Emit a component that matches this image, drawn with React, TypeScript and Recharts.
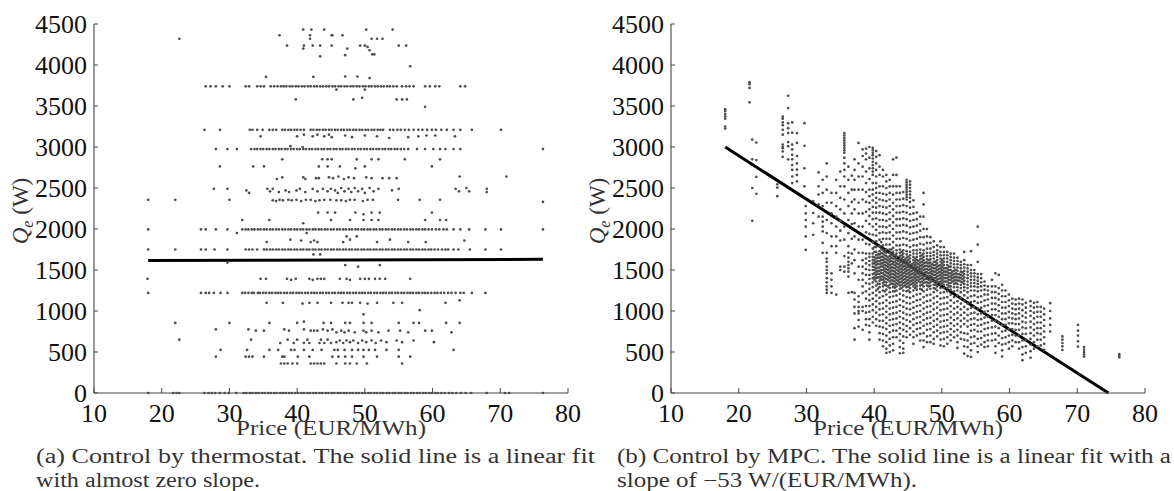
import { ScatterChart, Scatter, XAxis, YAxis, ReferenceLine } from 'recharts';

// axis ticks
const priceTicks = [10, 20, 30, 40, 50, 60, 70, 80];
const powerTicks = [0, 500, 1000, 1500, 2000, 2500, 3000, 3500, 4000, 4500];

// (a) thermostat: prices of the points sitting on each discrete power level
const thermoQ0 = [18, 21.7, 22.2, 22.6, 26.3, 26.9, 27.4, 27.9, 28.6, 29.3, 29.9, 31, 32.1, 32.5, 33, 33.4, 33.9, 34.3, 34.8, 35.2, 35.7, 36.1, 36.6, 37, 37.5, 37.9, 38.3, 38.8, 39.2, 39.7, 40.1, 40.6, 41, 41.5, 41.9, 42.4, 42.8, 43.3, 43.7, 44.2, 44.6, 45.1, 45.5, 46, 46.4, 46.9, 47.3, 47.8, 48.2, 48.7, 49.1, 49.6, 50, 50.5, 50.9, 51.4, 51.8, 52.3, 52.7, 53.2, 53.6, 54.1, 54.5, 55, 55.4, 55.9, 56.3, 56.8, 57.2, 57.7, 58.1, 58.6, 59, 59.5, 59.9, 60.4, 60.8, 61.3, 61.8, 62.4, 62.9, 63.5, 64.2, 64.9, 65.7, 68, 70.7, 71.3, 76.3];
const thermoQ1220 = [18, 25.8, 26.5, 27, 27.7, 28.7, 29.7, 31.9, 32.3, 32.8, 33.3, 33.6, 34.2, 34.5, 35, 35.4, 35.9, 36.3, 36.8, 37.2, 37.6, 38.1, 38.5, 39, 39.4, 39.9, 40.3, 40.7, 41.2, 41.6, 42.1, 42.5, 42.9, 43.4, 43.8, 44.3, 44.7, 45.2, 45.6, 46.1, 46.5, 46.9, 47.4, 47.8, 48.3, 48.7, 49.2, 49.6, 50, 50.5, 50.9, 51.4, 51.8, 52.3, 52.7, 53.1, 53.6, 54, 54.5, 54.9, 55.4, 55.8, 56.3, 56.7, 57.1, 57.6, 58, 58.5, 58.9, 59.3, 59.8, 60.3, 60.7, 61.2, 61.7, 62.3, 62.8, 63.4, 64.1, 64.6, 65.8, 67.8];
const thermoQ1750 = [18, 22, 25.8, 26.5, 27.8, 29.7, 32.4, 32.9, 33.4, 34.1, 35.1, 35.5, 36, 36.4, 36.9, 37.3, 37.8, 38.2, 38.7, 39.1, 39.6, 40, 40.5, 40.9, 41.4, 41.8, 42.3, 42.7, 43.2, 43.6, 44.1, 44.5, 45, 45.4, 45.9, 46.3, 46.8, 47.2, 47.7, 48.1, 48.6, 49, 49.5, 49.9, 50.4, 50.8, 51.3, 51.7, 52.2, 52.6, 53.1, 53.5, 54, 54.4, 54.9, 55.3, 55.8, 56.2, 56.7, 57.1, 57.6, 58, 58.5, 58.9, 59.4, 59.8, 60.3, 60.8, 61.4, 61.9, 62.3, 63.1, 63.8, 65.5, 67.8, 70.1];
const thermoQ2000 = [18, 25.8, 26.5, 28, 29.7, 31.9, 32.4, 32.8, 33.3, 33.7, 34.2, 34.6, 35.1, 35.5, 36, 36.4, 36.9, 37.3, 37.8, 38.2, 38.7, 39.1, 39.6, 40, 40.5, 40.9, 41.4, 41.8, 42.3, 42.7, 43.2, 43.6, 44.1, 44.5, 45, 45.4, 45.9, 46.3, 46.8, 47.2, 47.7, 48.1, 48.6, 49, 49.5, 49.9, 50.4, 50.8, 51.3, 51.7, 52.2, 52.6, 53.1, 53.5, 54, 54.4, 54.9, 55.3, 55.8, 56.2, 56.7, 57.1, 57.6, 58, 58.5, 58.9, 59.4, 59.9, 60.5, 61, 61.6, 62.1, 63.1, 64.1, 65.4, 67.8, 70.1, 76.3];
const thermoQ2970 = [28, 29.7, 31.1, 33.2, 33.7, 34.1, 34.6, 35, 35.5, 35.9, 36.4, 36.8, 37.3, 37.7, 38.2, 38.6, 39.1, 39.5, 40, 40.4, 40.9, 41.3, 41.8, 42.2, 42.7, 43.1, 43.6, 44, 44.5, 44.9, 45.4, 45.8, 46.3, 46.7, 47.2, 47.6, 48.1, 48.5, 49, 49.4, 49.9, 50.3, 50.8, 51.2, 51.7, 52.1, 52.6, 53, 53.5, 53.9, 54.4, 54.8, 55.3, 55.8, 56.4, 57.7, 58.9, 60.1, 61.1, 61.9, 63.1, 64.1, 76.3];
const thermoQ3200 = [26.3, 28.6, 33, 33.4, 34.1, 34.9, 35.9, 36.4, 36.9, 37.8, 38.2, 38.7, 39.1, 39.6, 40, 40.5, 41, 42, 42.4, 42.9, 43.3, 43.8, 44.2, 44.7, 45.1, 45.6, 46, 46.5, 46.9, 47.4, 47.8, 48.3, 48.7, 49.2, 49.6, 50.1, 50.5, 51, 51.4, 51.9, 52.3, 52.7, 53.7, 54.2, 54.8, 55.3, 55.9, 56.5, 57.2, 57.9, 58.5, 59.2, 59.9, 60.5, 61.3, 62.1, 63.1, 64.1, 65.8, 70.1];
const thermoQ3740 = [26.5, 27.2, 28, 29, 30, 32.4, 32.9, 34.1, 34.6, 35.1, 36.1, 36.6, 37.1, 37.6, 38, 38.4, 38.9, 39.3, 39.8, 40.2, 40.7, 41.1, 41.6, 42, 42.5, 42.9, 43.4, 43.8, 44.3, 44.7, 45.2, 45.6, 46.1, 46.5, 47, 47.4, 47.9, 48.3, 48.8, 49.2, 49.7, 50.1, 50.6, 51, 51.5, 51.9, 52.4, 52.8, 53.3, 53.7, 54.2, 54.7, 55.5, 56.1, 56.6, 57.2, 58.9, 59.6, 60.4, 61, 64.1, 64.8];

// (a) thermostat: loose points [price, power]
const thermoScatter: [number, number][] = [
  [40.9, 4432], [42.1, 4432], [44, 4432], [50.2, 4432], [54.1, 4432],
  [37.4, 4363], [41.9, 4363], [45.2, 4363], [45.1, 4363], [46.7, 4363],
  [22.6, 4320], [41.9, 4320], [51, 4320], [51.8, 4320], [52.6, 4320],
  [38.5, 4237], [41, 4237], [42.3, 4237], [43.4, 4237], [45.1, 4237], [49.3, 4237], [50, 4237], [50.4, 4220], [55, 4237], [56.1, 4237],
  [40.9, 4200], [47.4, 4200], [50.7, 4180], [47.1, 4120], [51.1, 4130], [51.4, 4130], [43.4, 4106], [56.7, 3985],
  [35.4, 3854], [42.4, 3854], [47.1, 3860], [48.9, 3860], [50.7, 3840], [45.8, 3700], [50, 3700],
  [39.8, 3580], [48.3, 3580], [49.6, 3600], [54.7, 3580], [55.5, 3580], [56.2, 3580], [58.9, 3490],
  [34.6, 3130], [40, 3130], [41, 3150], [42.3, 3130], [43, 3150], [44, 3130], [44.7, 3150], [45.1, 3120], [47.1, 3140], [48.1, 3120], [50, 3140], [51.8, 3130], [53.6, 3110], [56.4, 3120], [57.9, 3130], [59.1, 3140], [60.4, 3140], [63.3, 3130],
  [39, 3010], [40.8, 3000],
  [37.8, 2850], [43.7, 2850], [44.5, 2850], [45.1, 2850], [48.8, 2850], [51, 2850], [52, 2850], [55.9, 2850], [61.1, 2850],
  [28.6, 2763], [33.5, 2763], [35.1, 2763], [43.2, 2763], [44.5, 2763], [46.3, 2763], [48.6, 2740], [50, 2763], [59.9, 2763],
  [37, 2610], [37.8, 2630], [40.9, 2630], [41.2, 2610], [42.8, 2620], [43.2, 2620], [44.7, 2630], [45.3, 2620], [46.1, 2640], [46.9, 2610], [47.6, 2630], [48.4, 2620], [50.2, 2630], [51, 2620], [52.6, 2620], [53.6, 2620], [54.7, 2620], [64, 2640], [70.9, 2640],
  [27.7, 2490], [29.7, 2490], [32.5, 2470], [32.9, 2440], [35.6, 2490], [36, 2460], [36.4, 2490], [37.3, 2450], [38.3, 2470], [38.8, 2450], [39.9, 2470], [40.4, 2490], [41.2, 2450], [42.3, 2490], [43, 2460], [43.8, 2490], [44.5, 2460], [45, 2490],
  [45.6, 2470], [46, 2440], [46.5, 2500], [47, 2460], [47.6, 2490], [48, 2450], [48.5, 2500], [49, 2460], [49.6, 2490], [50, 2440], [50.7, 2500], [51.3, 2460], [52, 2490], [54, 2470], [55, 2490], [63.4, 2490], [63.9, 2460], [65, 2500], [65.4, 2460], [68, 2490], [68, 2450],
  [18, 2356], [22, 2356], [30, 2356], [36.4, 2350], [36.9, 2340], [37.4, 2356], [37.9, 2350], [38.7, 2356], [39.2, 2350], [39.9, 2356], [40.6, 2340], [41.3, 2356], [42, 2356], [42.7, 2340], [43.3, 2350], [44, 2356], [44.9, 2356],
  [45.8, 2350], [46.5, 2350], [47.2, 2340], [47.8, 2356], [48.5, 2356], [49.7, 2340], [50.4, 2356], [51.2, 2356], [54.9, 2356], [58.1, 2356], [61.1, 2356], [76.3, 2330],
  [43.1, 2200], [44.5, 2200], [45.6, 2200], [48.6, 2200], [49.8, 2180], [51, 2200], [52.2, 2200], [59.9, 2200],
  [31.9, 2110], [35.9, 2110], [45, 2110], [47.8, 2110], [49.8, 2110], [51, 2110], [52, 2110], [58.9, 2110], [61.1, 2110], [62, 2110], [40.9, 2070],
  [31.1, 1950], [41.4, 1950], [47.3, 1910], [48.8, 1910],
  [35.5, 1840], [39, 1870], [40.6, 1860], [42, 1840], [42.5, 1860], [43, 1840], [46.8, 1840], [47.8, 1870], [51.8, 1840], [53.7, 1870], [56.4, 1840], [59, 1840], [64.7, 1860],
  [42.4, 1690], [43.4, 1690], [29.7, 1590], [47.1, 1560], [49, 1540], [52.2, 1560],
  [17.9, 1392], [34.6, 1392], [35.4, 1392], [38.5, 1392], [39.1, 1380], [39.8, 1392], [41.8, 1392], [42.3, 1380], [43, 1392], [43.5, 1392], [44, 1392], [46.3, 1392], [47.3, 1392], [47.8, 1380], [49.3, 1392], [50, 1392], [50.6, 1392], [51.5, 1392], [52.2, 1392], [53, 1392], [56.7, 1392],
  [35.5, 1100], [37.9, 1100], [40.8, 1090], [41.8, 1100], [43, 1100], [45, 1100], [46.7, 1100], [47.6, 1100], [48.1, 1100], [49.3, 1100], [50.4, 1090], [51.8, 1100], [54.2, 1100], [55.5, 1100], [61.9, 1100], [64, 1130],
  [49.8, 960], [58.1, 1010],
  [22, 855], [30, 855], [35.9, 855], [40, 855], [41, 870], [43.9, 855], [45, 855], [47.1, 855], [47.8, 855], [49.8, 855], [51, 855], [55, 855], [57.2, 855], [58, 855], [62, 855], [64, 855],
  [28, 775], [32.8, 775], [33.9, 760], [35.1, 760], [38.1, 775], [38.8, 760], [41, 775], [42, 760], [42.5, 760], [43, 760], [43.8, 775], [44.5, 760], [45.2, 775],
  [45.8, 740], [46.5, 760], [47, 740], [47.6, 760], [48.5, 740], [49.8, 760], [50.2, 740], [51, 760], [52, 740], [53.5, 760], [55.2, 760], [56.4, 740], [58.9, 760], [59.9, 760], [62.8, 740],
  [22.6, 650], [33.2, 650], [38.6, 650], [40, 650], [41.5, 650], [43.5, 650], [44.5, 650], [37.5, 610], [39.5, 610], [41, 610], [41.8, 610], [43.3, 610], [44, 610], [45, 610],
  [45.8, 620], [46.3, 640], [46.8, 610], [47.3, 640], [47.8, 620], [48.3, 640], [49, 610], [49.6, 640], [50.2, 620], [51, 640], [51.6, 610], [52.4, 640], [53.2, 620], [54.7, 640], [55.5, 620], [57.2, 640], [60.2, 620],
  [28.7, 525], [32.6, 525], [35.9, 525], [37.2, 525], [39.1, 525], [39.6, 525], [41, 525], [42.3, 525], [43.6, 525], [45.5, 525], [46, 525], [47, 525], [48.1, 525], [49, 525], [49.8, 525], [50.6, 525], [51.5, 525], [53.2, 525], [55, 525], [63.1, 525],
  [28, 443], [32.4, 443], [32.9, 443], [33.4, 443], [35.1, 443], [37.8, 443], [38.1, 443], [40.1, 443], [41.8, 443], [45.2, 443], [46.1, 443], [47.1, 443], [48.1, 443], [49.8, 443], [51.8, 443], [55, 443], [56.7, 443],
  [37.6, 360], [38.1, 360], [38.6, 360], [39.3, 360], [40, 360], [42, 360], [42.5, 360], [43, 360], [43.5, 360], [44, 360], [45.8, 360], [47.1, 360], [47.8, 360], [48.8, 360], [50.3, 360], [55.5, 360],
];

// (b) MPC: vertical streaks [price, powers]
const mpcColumns: [number, number[]][] = [
  [18.0, [3460, 3440, 3405, 3375, 3345, 3250, 3225]],
  [21.6, [3790, 3765, 3720, 3545]],
  [22.0, [3090, 2850, 2500, 2100]],
  [22.6, [3055, 2840, 2635, 2430]],
  [25.7, [2545, 2505, 2400]],
  [26.5, [3370, 3345, 3300, 3265, 3210, 3150, 3030, 3000, 2985, 2945, 2880]],
  [27.3, [3625, 3475, 3290, 3230, 3170, 3060, 3010, 2850]],
  [27.9, [3300, 3175, 3030, 2970, 2905, 2850, 2780, 2720, 2640, 2560]],
  [28.6, [3170, 3050, 2890, 2800, 2725, 2660, 2580]],
  [29.7, [3290, 3015, 2740, 2520]],
  [29.9, [2280, 2190, 2110, 2030, 1910, 1745]],
  [31.0, [2340, 2195, 2070, 1930]],
  [31.8, [2690, 2520, 2420, 2300, 2150]],
  [32.4, [2600, 2440, 2280, 2150, 2090, 2030, 1970, 1830, 1710]],
  [33.0, [2800, 2640, 2480, 2320, 2110, 1950, 1710, 1640, 1600, 1540, 1500, 1460, 1400, 1350, 1300, 1260, 1220]],
  [33.7, [2440, 2320, 2190, 2070, 1910, 1790, 1460, 1380, 1300, 1220]],
  [34.4, [2600, 2440, 2280, 2150, 2030, 1910, 1790, 1710, 1200]],
  [35.0, [2700, 2520, 2380, 2240, 2100, 1980, 1860, 1540, 1500]],
  [35.6, [3170, 3140, 3110, 3080, 3050, 3020, 2990, 2960, 2930, 2870, 2800, 2720, 2640, 2520, 2360, 2190, 2030, 1870, 1670, 1540, 1480]],
  [36.2, [2760, 2600, 2440, 2280, 2110, 1950, 1790, 1710, 1650, 1600, 1560, 1520, 1480, 1420, 1220]],
  [36.7, [2650, 2480, 2330, 2190, 2060, 1880, 1700, 1580, 1230]],
  [37.1, [2850, 2720, 2600, 2480, 2360, 2240, 2070, 1910, 1750, 1620, 1460, 1220, 1140, 1050, 970, 790, 650]],
  [37.7, [3050, 2800, 2640, 2480, 2320, 2190, 2030, 1870, 1710, 1540, 1380, 1180, 1110, 1050, 1000, 970, 890, 810]],
  [38.3, [2970, 2890, 2760, 2640, 2480, 2360, 2190, 2030, 1870, 1710, 1620, 1540, 1460, 1380, 1300, 1220, 1050, 1000, 770]],
  [38.8, [2980, 2920, 2850, 2700, 2560, 2450, 2330, 2210, 2100, 1960, 1820, 1700, 1640, 1580, 1510, 1440, 1340, 1240, 1150, 1060, 980, 900, 830]],
  [39.3, [3000, 2870, 2740, 2610, 2480, 2400, 2320, 2240, 2160, 2060, 1940, 1810, 1700, 1660, 1610, 1560, 1500, 1440, 1390, 1330, 1270, 1200, 1130, 1060, 990, 900, 820, 740, 650]],
  [39.8, [2990, 2960, 2930, 2900, 2860, 2820, 2780, 2740, 2700, 2660, 2560, 2480, 2420, 2350, 2270, 2200, 2120, 2030, 1930, 1840, 1760, 1700, 1660, 1620, 1580, 1540, 1500, 1450, 1400, 1350, 1290, 1220, 1150, 1080, 1010, 930, 860]],
  [40.3, [2950, 2880, 2800, 2720, 2640, 2560, 2500, 2440, 2380, 2320, 2260, 2200, 2130, 2060, 1990, 1920, 1850, 1780, 1720, 1680, 1640, 1600, 1560, 1520, 1480, 1440, 1400, 1360, 1310, 1250, 1190, 1120, 1050, 980, 900, 820]],
  [40.8, [2900, 2760, 2660, 2520, 2440, 2360, 2280, 2200, 2110, 2030, 1950, 1870, 1790, 1730, 1690, 1650, 1610, 1570, 1530, 1490, 1450, 1410, 1370, 1330, 1290, 1230, 1160, 1090, 1020, 950, 880, 810, 730, 650]],
  [41.3, [2720, 2640, 2520, 2430, 2350, 2270, 2190, 2110, 2030, 1960, 1880, 1800, 1740, 1700, 1660, 1620, 1580, 1540, 1500, 1460, 1420, 1380, 1340, 1300, 1250, 1180, 1100, 1030, 960, 880, 800, 720, 640, 570]],
  [41.8, [2660, 2580, 2500, 2420, 2340, 2260, 2180, 2100, 2020, 1950, 1880, 1810, 1750, 1710, 1670, 1630, 1590, 1550, 1510, 1470, 1430, 1390, 1350, 1310, 1260, 1200, 1130, 1060, 990, 920, 850, 780, 700, 620, 540, 490]],
  [42.3, [2600, 2520, 2440, 2360, 2280, 2200, 2120, 2040, 1960, 1880, 1810, 1750, 1710, 1670, 1630, 1600, 1560, 1520, 1480, 1440, 1400, 1360, 1320, 1280, 1230, 1170, 1100, 1030, 960, 890, 820, 740, 660, 580, 500]],
  [42.8, [2850, 2660, 2520, 2420, 2320, 2240, 2160, 2080, 2000, 1920, 1840, 1770, 1720, 1680, 1640, 1600, 1570, 1530, 1490, 1450, 1410, 1370, 1330, 1290, 1240, 1180, 1110, 1040, 970, 900, 830, 760, 680, 600, 520]],
  [43.3, [2870, 2660, 2520, 2440, 2360, 2280, 2200, 2120, 2040, 1960, 1880, 1800, 1740, 1700, 1660, 1620, 1580, 1540, 1500, 1460, 1420, 1380, 1340, 1300, 1250, 1190, 1120, 1050, 980, 910, 840, 760, 680]],
  [43.8, [2520, 2440, 2360, 2280, 2200, 2120, 2040, 1960, 1880, 1800, 1750, 1710, 1670, 1630, 1590, 1550, 1510, 1470, 1430, 1390, 1350, 1310, 1270, 1210, 1140, 1070, 1000, 930, 860, 790, 720, 640, 560, 485]],
  [44.3, [2450, 2370, 2290, 2210, 2130, 2050, 1970, 1890, 1810, 1740, 1700, 1660, 1620, 1580, 1540, 1500, 1460, 1420, 1380, 1340, 1300, 1250, 1190, 1120, 1050, 980, 910, 840, 770, 690, 610, 540, 490]],
  [44.8, [2600, 2570, 2540, 2510, 2480, 2450, 2420, 2390, 2360, 2280, 2200, 2120, 2040, 1960, 1880, 1800, 1730, 1690, 1650, 1610, 1570, 1530, 1490, 1450, 1410, 1370, 1330, 1290, 1240, 1170, 1100, 1030, 960, 890, 820, 750, 680]],
  [45.3, [2580, 2540, 2500, 2460, 2420, 2380, 2330, 2260, 2180, 2100, 2020, 1940, 1860, 1780, 1720, 1680, 1640, 1600, 1560, 1520, 1480, 1440, 1400, 1360, 1320, 1280, 1230, 1160, 1090, 1020, 950, 870, 790, 710]],
  [45.8, [2350, 2270, 2190, 2110, 2030, 1950, 1870, 1800, 1740, 1700, 1660, 1620, 1580, 1540, 1500, 1460, 1420, 1380, 1340, 1300, 1250, 1180, 1110, 1040, 970, 900, 830, 750, 680, 600]],
  [46.3, [2200, 2120, 2040, 1960, 1880, 1800, 1740, 1700, 1660, 1620, 1580, 1540, 1500, 1460, 1420, 1380, 1340, 1300, 1260, 1200, 1130, 1060, 990, 920, 850, 780, 700]],
  [46.8, [2150, 2060, 1980, 1900, 1820, 1750, 1710, 1670, 1630, 1590, 1550, 1510, 1470, 1430, 1390, 1350, 1310, 1270, 1210, 1140, 1070, 1000, 930, 860, 790, 720, 640]],
  [47.3, [2440, 2300, 2150, 2000, 1900, 1810, 1740, 1700, 1660, 1620, 1580, 1540, 1500, 1460, 1420, 1380, 1340, 1300, 1240, 1170, 1100, 1030, 960, 890, 820, 730, 640, 560]],
  [47.8, [2000, 1910, 1830, 1760, 1710, 1670, 1630, 1590, 1550, 1510, 1470, 1430, 1390, 1350, 1310, 1260, 1190, 1120, 1050, 980, 910, 840, 770, 690, 620]],
  [48.3, [1900, 1830, 1760, 1710, 1670, 1630, 1590, 1550, 1510, 1470, 1430, 1390, 1350, 1310, 1270, 1200, 1130, 1060, 990, 920, 850, 780, 700, 620]],
  [48.8, [1850, 1780, 1720, 1680, 1640, 1600, 1560, 1520, 1480, 1440, 1400, 1360, 1320, 1280, 1230, 1160, 1090, 1020, 950, 880, 810, 740, 660, 600]],
  [49.3, [1800, 1740, 1700, 1660, 1620, 1580, 1540, 1500, 1460, 1420, 1380, 1340, 1300, 1250, 1180, 1110, 1040, 970, 900, 830, 760, 690]],
  [49.8, [1850, 1780, 1720, 1680, 1640, 1600, 1560, 1520, 1480, 1440, 1400, 1360, 1320, 1280, 1220, 1150, 1080, 1010, 940, 870, 800, 730, 650, 580]],
  [50.3, [1780, 1720, 1680, 1640, 1600, 1560, 1520, 1480, 1440, 1400, 1360, 1320, 1280, 1230, 1160, 1090, 1020, 950, 880, 810, 740, 660, 570]],
  [50.8, [1720, 1680, 1640, 1600, 1560, 1520, 1480, 1440, 1400, 1360, 1320, 1280, 1240, 1170, 1100, 1030, 960, 890, 820, 750, 680, 600]],
  [51.3, [1700, 1660, 1620, 1580, 1540, 1500, 1460, 1420, 1380, 1340, 1300, 1260, 1200, 1130, 1060, 990, 920, 850, 780, 710, 640]],
  [51.8, [1700, 1650, 1610, 1570, 1530, 1490, 1450, 1410, 1370, 1330, 1290, 1240, 1170, 1100, 1030, 960, 890, 820, 750, 680]],
  [52.3, [1650, 1610, 1570, 1530, 1490, 1450, 1410, 1370, 1330, 1290, 1250, 1190, 1120, 1050, 980, 910, 840, 770, 700, 620, 550]],
  [52.8, [1600, 1560, 1520, 1480, 1440, 1400, 1360, 1320, 1280, 1230, 1160, 1090, 1020, 950, 880, 810, 740, 660]],
  [53.3, [1720, 1620, 1570, 1530, 1490, 1450, 1410, 1370, 1330, 1290, 1250, 1190, 1120, 1050, 980, 910, 840, 730, 650, 570, 480]],
  [53.8, [1560, 1520, 1480, 1440, 1400, 1360, 1320, 1280, 1230, 1160, 1090, 1020, 950, 880, 810, 720, 640, 560, 450]],
  [54.3, [1730, 1560, 1500, 1460, 1420, 1380, 1340, 1300, 1250, 1180, 1110, 1040, 970, 900, 830, 760, 680, 600, 520, 440]],
  [54.8, [1500, 1460, 1420, 1380, 1340, 1300, 1250, 1190, 1120, 1050, 980, 910, 840, 770, 690, 610]],
  [55.3, [2030, 1810, 1600, 1450, 1410, 1370, 1330, 1290, 1240, 1170, 1100, 1030, 960, 890, 820, 750, 660, 570, 500]],
  [55.8, [1450, 1400, 1350, 1300, 1250, 1180, 1110, 1040, 970, 900, 830, 750, 670, 590]],
  [56.3, [1360, 1310, 1260, 1200, 1130, 1060, 990, 920, 850, 780, 700, 620, 560]],
  [56.8, [1300, 1250, 1200, 1140, 1070, 1000, 930, 860, 790, 710, 640, 570]],
  [57.4, [1380, 1300, 1230, 1160, 1090, 1020, 950, 880, 800, 720, 640]],
  [57.9, [1460, 1300, 1230, 1160, 1090, 1020, 950, 880, 810, 730, 650, 570, 490]],
  [58.4, [1440, 1280, 1210, 1140, 1070, 1000, 930, 860, 790, 700, 610]],
  [58.9, [1320, 1250, 1180, 1110, 1040, 970, 900, 830, 750, 670, 590, 520, 445]],
  [59.4, [1250, 1180, 1110, 1040, 970, 900, 830, 760, 680, 600]],
  [59.9, [1200, 1130, 1060, 990, 920, 850, 780, 700, 620, 540]],
  [60.4, [1150, 1090, 1030, 970, 910, 850, 780, 710, 640, 570]],
  [60.9, [1140, 1080, 1020, 960, 900, 840, 770, 700, 620]],
  [61.4, [1150, 1090, 1030, 970, 910, 840, 770, 700, 620, 540]],
  [61.9, [1140, 1080, 1010, 940, 870, 800, 720, 640, 560, 470, 400]],
  [62.4, [1100, 1040, 980, 920, 860, 790, 720, 650, 570, 490]],
  [63.1, [1120, 1060, 1000, 940, 870, 800, 730, 660, 590, 510, 430]],
  [63.6, [1100, 1040, 980, 910, 840, 770, 700, 620, 540]],
  [64.1, [1110, 1050, 990, 930, 860, 790, 730, 650, 570]],
  [64.6, [1050, 990, 930, 860, 790, 720, 650, 580]],
  [65.1, [1030, 960, 890, 820, 750, 680, 600, 525]],
  [66.0, [1095, 1000, 910, 830, 750]],
  [67.8, [690, 650, 610, 570, 525]],
  [70.1, [830, 760, 700, 630, 566]],
  [71.0, [560, 530, 500, 470, 445]],
  [76.2, [475, 455, 435]],
];

// (b) MPC: the dark core of the cloud, in between the streaks above
const mpcCoreColumns: [number, number[]][] = [
  [40.05, [1780, 1720, 1655, 1615, 1580, 1535, 1500, 1460, 1415, 1380]],
  [40.55, [1690, 1650, 1610, 1575, 1530, 1490, 1455, 1410, 1330, 1270]],
  [41.05, [1840, 1760, 1705, 1660, 1620, 1580, 1545, 1500, 1465, 1420, 1385]],
  [41.55, [1720, 1680, 1640, 1600, 1560, 1520, 1485, 1440, 1400, 1360, 1320, 1240]],
  [42.05, [1655, 1615, 1575, 1540, 1500, 1460, 1420, 1380, 1300]],
  [42.55, [1750, 1690, 1650, 1610, 1570, 1535, 1495, 1455, 1415, 1375, 1335]],
  [43.05, [1680, 1640, 1600, 1560, 1520, 1480, 1440, 1400, 1360, 1320, 1285, 1240]],
  [43.55, [1610, 1570, 1530, 1490, 1450, 1410, 1370, 1330]],
  [44.05, [1720, 1680, 1640, 1600, 1560, 1520, 1480, 1440, 1400, 1360, 1320, 1280]],
  [44.55, [1630, 1590, 1550, 1510, 1470, 1430, 1390, 1350, 1310]],
  [45.05, [1660, 1620, 1580, 1540, 1500, 1460, 1420, 1380, 1340, 1300, 1250]],
  [45.55, [1570, 1530, 1490, 1450, 1410, 1370, 1330]],
  [46.05, [1640, 1600, 1560, 1520, 1480, 1440, 1400, 1360, 1320, 1280]],
  [46.55, [1610, 1570, 1530, 1490, 1450, 1410, 1370]],
  [47.05, [1680, 1640, 1600, 1560, 1520, 1480, 1440, 1400, 1360, 1320, 1260]],
  [47.55, [1590, 1550, 1510, 1470, 1430, 1390, 1350]],
  [48.05, [1620, 1580, 1540, 1500, 1460, 1420, 1380, 1340, 1300]],
  [48.55, [1570, 1530, 1490, 1450, 1410, 1370]],
  [49.05, [1600, 1560, 1520, 1480, 1440, 1400, 1360, 1320, 1270]],
  [49.55, [1550, 1510, 1470, 1430, 1390, 1350]],
  [50.05, [1620, 1580, 1540, 1500, 1460, 1420, 1380, 1340]],
  [50.55, [1520, 1480, 1440, 1400, 1360]],
  [51.05, [1540, 1500, 1460, 1420, 1380, 1340, 1300]],
  [51.55, [1480, 1440, 1400, 1360]],
  [52.05, [1500, 1460, 1420, 1380, 1340]],
  [52.55, [1450, 1410, 1370]],
  [53.05, [1470, 1430, 1390, 1350]],
];

// linear fits, [price, power] end points
const thermoFit: [number, number][] = [[18, 1615], [76.3, 1630]];
const mpcFit: [number, number][] = [[18, 3000], [74.6, 0]];

const band = (q: number, prices: number[]) => prices.map((p) => ({ price: p, q }));

const thermoPoints = [
  ...band(0, thermoQ0),
  ...band(1220, thermoQ1220),
  ...band(1750, thermoQ1750),
  ...band(1995, thermoQ2000),
  ...band(2975, thermoQ2970),
  ...band(3210, thermoQ3200),
  ...band(3740, thermoQ3740),
  ...thermoScatter.map(([p, q]) => ({ price: p, q })),
];

const mpcPoints = [...mpcColumns, ...mpcCoreColumns].flatMap(([p, qs]) => qs.map((q) => ({ price: p, q })));

const serif = { fontFamily: "'Liberation Serif', 'Times New Roman', 'DejaVu Serif', serif" };
const PLOT_TOP = 24;
const PLOT_BOTTOM = 393;
const PLOT_LEFT = 94;

const Dot = (props: any) => <circle cx={props.cx} cy={props.cy} r={1.35} fill="#4d4d4d" />;

const PriceTick = (props: any) => {
  const { x, payload } = props;
  return (
    <g>
      <line x1={x} x2={x} y1={PLOT_BOTTOM} y2={PLOT_BOTTOM - 5} stroke="#444" strokeWidth={1} />
      <text x={x} y={422} textAnchor="middle" fontSize={26} style={serif} fill="#111">
        {payload.value}
      </text>
    </g>
  );
};

const PowerTick = (props: any) => {
  const { y, payload } = props;
  return (
    <g>
      <line x1={PLOT_LEFT} x2={PLOT_LEFT + 4} y1={y} y2={y} stroke="#444" strokeWidth={1} />
      <text x={87} y={y + 8.5} textAnchor="end" fontSize={26} style={serif} fill="#111">
        {payload.value}
      </text>
    </g>
  );
};

interface PanelProps {
  points: { price: number; q: number }[];
  fit: [number, number][];
  left: number;
}

const Panel = ({ points, fit, left }: PanelProps) => (
  <div style={{ position: 'absolute', left, top: 0 }}>
    <ScatterChart width={587} height={440} margin={{ top: PLOT_TOP, right: 19, bottom: 0, left: 0 }}>
      <XAxis
        type="number"
        dataKey="price"
        domain={[10, 80]}
        ticks={priceTicks}
        interval={0}
        height={440 - PLOT_BOTTOM}
        axisLine={{ stroke: '#444', strokeWidth: 1.2 }}
        tickLine={false}
        tick={(p: any) => <PriceTick {...p} />}
      />
      <YAxis
        type="number"
        dataKey="q"
        domain={[0, 4500]}
        ticks={powerTicks}
        interval={0}
        width={PLOT_LEFT}
        axisLine={{ stroke: '#555', strokeWidth: 1.2 }}
        tickLine={false}
        tick={(p: any) => <PowerTick {...p} />}
      />
      <Scatter data={points} shape={Dot} isAnimationActive={false} />
      <ReferenceLine
        segment={[
          { x: fit[0][0], y: fit[0][1] },
          { x: fit[1][0], y: fit[1][1] },
        ]}
        stroke="#000"
        strokeWidth={3}
      />
    </ScatterChart>
  </div>
);

const YLabel = ({ x }: { x: number }) => (
  <text transform={`translate(${x}, 211) rotate(-90)`} textAnchor="middle" fontSize={23} style={serif} fill="#333">
    <tspan fontStyle="italic">Q</tspan>
    <tspan fontStyle="italic" fontSize={16} dy={5}>e</tspan>
    <tspan dy={-5}> (W)</tspan>
  </text>
);

export default function App() {
  return (
    <div style={{ position: 'absolute', left: 0, top: 0, width: 1174, height: 491, background: '#fff', overflow: 'hidden' }}>
      <Panel points={thermoPoints} fit={thermoFit} left={0} />
      <Panel points={mpcPoints} fit={mpcFit} left={577} />
      <svg width={1174} height={491} style={{ position: 'absolute', left: 0, top: 0, pointerEvents: 'none' }}>
        <YLabel x={28} />
        <YLabel x={605} />
        <text x={331} y={435} textAnchor="middle" fontSize={22} style={serif} fill="#333" textLength={190} lengthAdjust="spacingAndGlyphs">
          Price (EUR/MWh)
        </text>
        <text x={908} y={435} textAnchor="middle" fontSize={22} style={serif} fill="#333" textLength={190} lengthAdjust="spacingAndGlyphs">
          Price (EUR/MWh)
        </text>
        <g fontSize={20} style={serif} fill="#333">
          <text x={36} y={463} textLength={559} lengthAdjust="spacingAndGlyphs">(a) Control by thermostat. The solid line is a linear fit</text>
          <text x={36} y={487} textLength={224} lengthAdjust="spacingAndGlyphs">with almost zero slope.</text>
          <text x={617} y={463} textLength={554} lengthAdjust="spacingAndGlyphs">(b) Control by MPC. The solid line is a linear fit with a</text>
          <text x={617} y={487} textLength={300} lengthAdjust="spacingAndGlyphs">slope of −53 W/(EUR/MWh).</text>
        </g>
      </svg>
    </div>
  );
}
